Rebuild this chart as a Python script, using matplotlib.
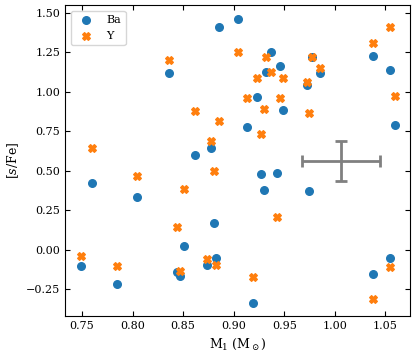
import matplotlib
matplotlib.use('Agg')
import matplotlib.pyplot as plt

plt.rcParams['font.family'] = 'DejaVu Serif'
plt.rcParams['mathtext.fontset'] = 'dejavuserif'

m1 = [0.749, 0.760, 0.785, 0.804, 0.836, 0.844, 0.847, 0.851, 0.862, 0.874,
      0.878, 0.880, 0.882, 0.885, 0.904, 0.913, 0.919, 0.9225, 0.9265, 0.930,
      0.932, 0.937, 0.943, 0.946, 0.949, 0.972, 0.974, 0.977, 0.9855, 1.038,
      1.038, 1.054, 1.054, 1.059]
ba = [-0.10, 0.424, -0.217, 0.335, 1.116, -0.141, -0.168, 0.023, 0.597, -0.099,
      0.646, 0.167, -0.051, 1.411, 1.460, 0.775, -0.335, 0.966, 0.481, 0.376,
      1.123, 1.253, 0.485, 1.165, 0.884, 1.040, 0.373, 1.222, 1.120, 1.226,
      -0.154, 1.137, -0.051, 0.789]
y_el = [-0.042, 0.646, -0.105, 0.468, 1.200, 0.142, -0.137, 0.386, 0.880, -0.056,
        0.686, 0.500, -0.097, 0.816, 1.253, 0.958, -0.171, 1.089, 0.730, 0.889,
        1.218, 1.127, 0.209, 0.958, 1.085, 1.063, 0.863, 1.222, 1.148, 1.310,
        -0.314, 1.411, -0.111, 0.973]

# typical uncertainty
err_x, err_y = 1.006, 0.56
err_dx, err_dy = 0.039, 0.126

fig, ax = plt.subplots(figsize=(4.16, 3.6), dpi=100)

ax.scatter(m1, ba, s=30, color='#1f77b4', marker='o', label='Ba', zorder=2)
ax.scatter(m1, y_el, s=30, color='#ff7f0e', marker='X', label='Y', zorder=3)
ax.errorbar(err_x, err_y, xerr=err_dx, yerr=err_dy, color='grey', lw=2,
            capsize=4, capthick=2)

ax.set_xlim(0.7335, 1.0744)
ax.set_ylim(-0.42, 1.549)
ax.set_xticks([0.75, 0.80, 0.85, 0.90, 0.95, 1.00, 1.05])
ax.set_yticks([-0.25, 0.00, 0.25, 0.50, 0.75, 1.00, 1.25, 1.50])

ax.tick_params(direction='in', top=True, right=True, labelsize=8)

ax.set_xlabel(r'M$_1$ (M$_\odot$)', fontsize=9)
ax.set_ylabel(r'[$s$/Fe]', fontsize=9)
ax.legend(loc='upper left', fontsize=8)

fig.subplots_adjust(left=0.157, right=0.986, top=0.986, bottom=0.122)
fig.savefig('out.png', dpi=100)
